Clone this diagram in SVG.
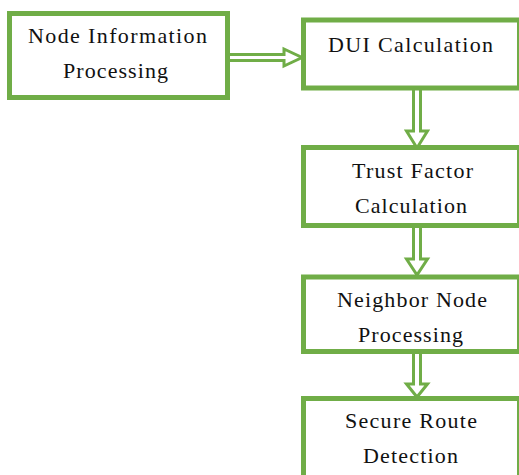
<svg xmlns="http://www.w3.org/2000/svg" width="519" height="475" viewBox="0 0 519 475">
<style>
.box{fill:#ffffff;stroke:#70AD47;stroke-width:5}
.arr{fill:#ffffff;stroke:#70AD47;stroke-width:3;stroke-linejoin:miter}
.t{font-family:"Liberation Serif","Times New Roman",serif;font-size:22px;fill:#111111;text-anchor:middle}
</style>
<rect width="519" height="475" fill="#ffffff"/>
<g id="connectors">
<path class="arr" d="M230,54.5 H284 V49 L302,57.5 L284,66 V60.5 H230"/>
<path class="arr" d="M413.5,90 V131 H406.5 L417,148 L427.5,131 H420.5 V90"/>
<path class="arr" d="M413.5,228 V259 H406.5 L417,275 L427.5,259 H420.5 V228"/>
<path class="arr" d="M413.5,354 V384 H406.5 L417,397 L427.5,384 H420.5 V354"/>
</g>
<g id="node1">
<rect class="box" x="9.5" y="13.5" width="218" height="84"/>
<text class="t" x="117.5" y="43" textLength="179" lengthAdjust="spacing">Node Information</text>
<text class="t" x="115.5" y="78" textLength="105" lengthAdjust="spacing">Processing</text>
</g>
<g id="node2">
<rect class="box" x="303.5" y="20" width="216" height="68"/>
<text class="t" x="410.5" y="52" textLength="165" lengthAdjust="spacing">DUI Calculation</text>
</g>
<g id="node3">
<rect class="box" x="303.5" y="147.5" width="216" height="78"/>
<text class="t" x="412.5" y="178" textLength="121" lengthAdjust="spacing">Trust Factor</text>
<text class="t" x="411" y="213" textLength="112" lengthAdjust="spacing">Calculation</text>
</g>
<g id="node4">
<rect class="box" x="303.5" y="277" width="216" height="74.5"/>
<text class="t" x="412" y="307" textLength="150" lengthAdjust="spacing">Neighbor Node</text>
<text class="t" x="410.5" y="342" textLength="105" lengthAdjust="spacing">Processing</text>
</g>
<g id="node5">
<rect class="box" x="303.5" y="398.5" width="216" height="100"/>
<text class="t" x="411" y="428" textLength="132" lengthAdjust="spacing">Secure Route</text>
<text class="t" x="410.5" y="463" textLength="95" lengthAdjust="spacing">Detection</text>
</g>
</svg>
